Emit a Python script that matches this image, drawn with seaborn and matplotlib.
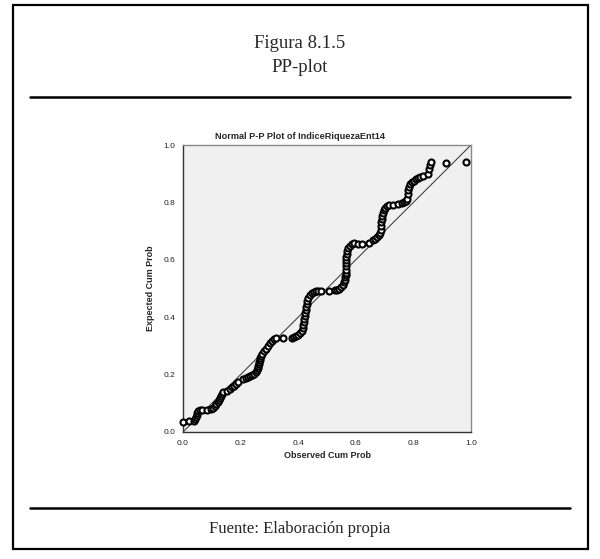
import matplotlib
matplotlib.use("Agg")
import matplotlib.pyplot as plt
import seaborn as sns
import pandas as pd
from matplotlib.patches import Rectangle
from matplotlib.lines import Line2D

# ---------------- data ----------------
observed_cum_prob = [
    0.000, 0.021, 0.038, 0.042, 0.045, 0.049, 0.049, 0.052, 0.059, 0.066,
    0.083, 0.097, 0.104, 0.111, 0.115, 0.122, 0.125, 0.128, 0.132, 0.135,
    0.139, 0.153, 0.163, 0.170, 0.177, 0.184, 0.191, 0.208, 0.219, 0.226,
    0.233, 0.240, 0.247, 0.253, 0.257, 0.260, 0.260, 0.264, 0.264, 0.267,
    0.267, 0.271, 0.274, 0.281, 0.288, 0.295, 0.302, 0.309, 0.316, 0.323,
    0.347, 0.378, 0.385, 0.392, 0.399, 0.406, 0.413, 0.417, 0.417, 0.420,
    0.420, 0.424, 0.424, 0.427, 0.427, 0.431, 0.431, 0.434, 0.441, 0.448,
    0.455, 0.462, 0.469, 0.479, 0.507, 0.528, 0.535, 0.542, 0.549, 0.556,
    0.559, 0.563, 0.563, 0.566, 0.566, 0.566, 0.566, 0.566, 0.566, 0.566,
    0.569, 0.569, 0.573, 0.580, 0.587, 0.594, 0.608, 0.622, 0.646, 0.660,
    0.667, 0.674, 0.681, 0.684, 0.688, 0.688, 0.688, 0.691, 0.691, 0.694,
    0.698, 0.701, 0.708, 0.715, 0.729, 0.747, 0.760, 0.767, 0.774, 0.778,
    0.781, 0.781, 0.785, 0.788, 0.795, 0.802, 0.809, 0.816, 0.823, 0.833,
    0.851, 0.854, 0.858, 0.861, 0.913, 0.983,
]
expected_cum_prob = [
    0.035, 0.038, 0.038, 0.045, 0.052, 0.059, 0.066, 0.073, 0.077, 0.077,
    0.077, 0.080, 0.084, 0.091, 0.098, 0.105, 0.111, 0.118, 0.125, 0.132,
    0.139, 0.143, 0.150, 0.157, 0.160, 0.167, 0.174, 0.185, 0.188, 0.192,
    0.195, 0.199, 0.202, 0.209, 0.216, 0.223, 0.230, 0.237, 0.244, 0.251,
    0.258, 0.265, 0.272, 0.282, 0.289, 0.300, 0.310, 0.317, 0.324, 0.328,
    0.328, 0.328, 0.331, 0.334, 0.338, 0.345, 0.352, 0.362, 0.373, 0.383,
    0.394, 0.404, 0.415, 0.425, 0.436, 0.446, 0.456, 0.467, 0.477, 0.484,
    0.488, 0.491, 0.491, 0.491, 0.491, 0.495, 0.495, 0.498, 0.505, 0.512,
    0.523, 0.530, 0.540, 0.547, 0.554, 0.564, 0.578, 0.589, 0.599, 0.610,
    0.620, 0.631, 0.641, 0.648, 0.655, 0.659, 0.655, 0.655, 0.659, 0.669,
    0.672, 0.679, 0.686, 0.693, 0.704, 0.718, 0.732, 0.742, 0.753, 0.763,
    0.774, 0.780, 0.787, 0.791, 0.791, 0.794, 0.798, 0.801, 0.805, 0.812,
    0.829, 0.843, 0.854, 0.864, 0.871, 0.875, 0.882, 0.885, 0.889, 0.892,
    0.899, 0.916, 0.930, 0.941, 0.937, 0.941,
]
tick_values = [0.0, 0.2, 0.4, 0.6, 0.8, 1.0]
tick_labels = ["0.0", "0.2", "0.4", "0.6", "0.8", "1.0"]

fig_title = "Figura 8.1.5"
fig_subtitle = "PP-plot"
chart_title = "Normal P-P Plot of IndiceRiquezaEnt14"
x_label = "Observed Cum Prob"
y_label = "Expected Cum Prob"
source_text = "Fuente: Elaboración propia"

df = pd.DataFrame({"observed": observed_cum_prob, "expected": expected_cum_prob})

# ---------------- figure ----------------
sns.set_style("white")
plt.rcParams["font.family"] = ["Liberation Sans", "DejaVu Sans"]

W, H = 600, 559
fig = plt.figure(figsize=(W / 100, H / 100), dpi=100)
fig.patch.set_facecolor("white")

def fx(px):
    return px / W

def fy(py):
    return 1 - py / H

# outer frame
fig.patches.append(Rectangle((fx(13), fy(549)), fx(588) - fx(13), fy(5) - fy(549),
                             transform=fig.transFigure, fill=False,
                             edgecolor="black", linewidth=1.6))
# horizontal rules
for yy in (97, 508):
    fig.lines.append(Line2D([fx(30), fx(570)], [fy(yy), fy(yy)],
                            transform=fig.transFigure, color="black", linewidth=1.8))

serif = ["Liberation Serif", "DejaVu Serif"]
fig.text(0.5, fy(44), fig_title, ha="center", va="center", family=serif, fontsize=13.5)
fig.text(0.5, fy(68), fig_subtitle, ha="center", va="center", family=serif, fontsize=13.5)
fig.text(0.5, fy(529), source_text, ha="center", va="center", family=serif, fontsize=12)

# plot axes
ax = fig.add_axes([fx(183), fy(432), fx(471) - fx(183), fy(145) - fy(432)])
ax.set_facecolor("#F0F0F0")
ax.plot([0, 1], [0, 1], color="#444444", linewidth=0.8, zorder=1)
sns.scatterplot(data=df, x="observed", y="expected", ax=ax, marker="o",
                s=19, facecolor="white", edgecolor="black", linewidth=1.5,
                zorder=3, clip_on=False)
ax.set_xlim(0, 1)
ax.set_ylim(0, 1)
ax.set_xticks(tick_values)
ax.set_yticks(tick_values)
ax.set_xticklabels(tick_labels)
ax.set_yticklabels(tick_labels)
ax.tick_params(axis="both", direction="out", length=4, width=0.8, color="#222222",
               labelsize=6, labelcolor="#222222", pad=1.5)
for side in ("left", "bottom"):
    ax.spines[side].set_color("#333333")
    ax.spines[side].set_linewidth(1.0)
for side in ("top", "right"):
    ax.spines[side].set_color("#8a8a8a")
    ax.spines[side].set_linewidth(1.0)
ax.set_xlabel(x_label, fontsize=6.5, fontweight="bold", labelpad=3)
ax.set_ylabel(y_label, fontsize=6.5, fontweight="bold", labelpad=6)
fig.text(0.5, fy(137), chart_title, ha="center", va="center",
         fontsize=6.6, fontweight="bold")

fig.savefig("out.png", dpi=100)
